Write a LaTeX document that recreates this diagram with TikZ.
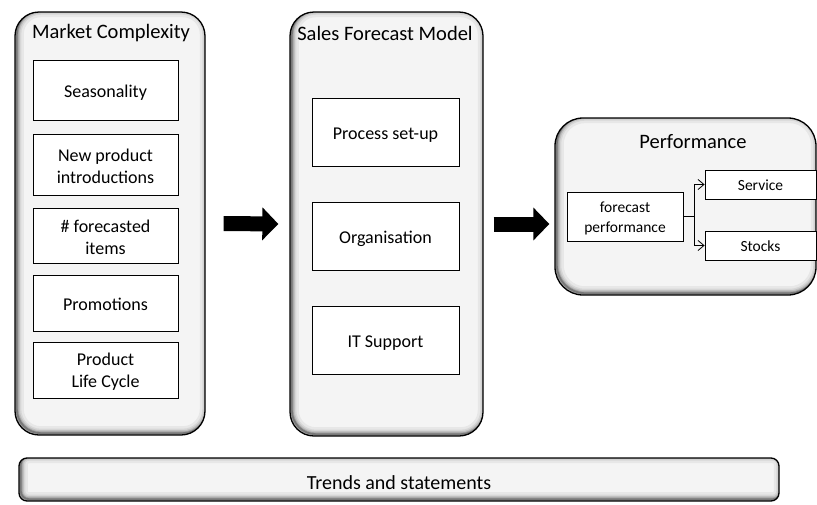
\documentclass[tikz,border=0pt]{standalone}
\usepackage{fontspec}
\setmainfont{Carlito}
\usetikzlibrary{arrows.meta}
\definecolor{panelgray}{HTML}{F4F4F4}
% taller first line, so that two-line labels sit a little lower
\newcommand\liftbig{\rule{0pt}{16.1pt}}
\newcommand\liftsmall{\rule{0pt}{14.9pt}}
\begin{document}
\begin{tikzpicture}[x=1pt,y=-1pt,
  % rounded panel with a soft inner shadow, heavier at the lower left
  panel/.style={draw=black, line width=1.3pt, fill=panelgray, rounded corners=#1,
    inner sep=0pt,
    path picture={
      \foreach \w/\o in {14/0.05,9/0.07,6/0.1,3.5/0.16,1.8/0.25}{
        \draw[line width=\w pt, draw=black, opacity=\o, rounded corners=#1]
          ([shift={(1.8pt,1.8pt)}]path picture bounding box.south west) rectangle
          ([shift={(1.8pt,1.8pt)}]path picture bounding box.north east);
      }
    }},
  itembox/.style={draw=black, line width=0.8pt, fill=white, align=center,
    font=\fontsize{18}{22.5}\selectfont, inner sep=0pt},
  oneline/.style={text height=17.6pt, text depth=3.4pt},
  smallbox/.style={draw=black, line width=0.8pt, fill=white, align=center,
    font=\fontsize{15.5}{20}\selectfont, inner sep=0pt},
  smalloneline/.style={text height=14.9pt, text depth=2.9pt},
  heading/.style={font=\fontsize{20.5}{24}\selectfont, inner sep=0pt},
  bigarrow/.style={line width=15pt, -{Triangle[length=16pt,width=32pt]}},
  thinarrow/.style={line width=0.8pt, -{Straight Barb[length=6pt,width=10pt]}}
]
\useasboundingbox (0,0) rectangle (817,504);

% panels
\node[panel=24pt, minimum width=190pt, minimum height=423pt] (mc) at (110,223.5) {};
\node[panel=24pt, minimum width=193pt, minimum height=424pt] (sfm) at (386.5,224) {};
\node[panel=28pt, minimum width=261pt, minimum height=177pt] (perf) at (685.5,206.5) {};
\node[panel=8pt, minimum width=760pt, minimum height=43pt] (bar) at (399,479.5) {};

% headings
\node[heading] (mctitle) at (111,33) {Market Complexity};
\node[heading] (sfmtitle) at (385,33) {Sales Forecast Model};
\node[heading] (perftitle) at (693,142) {Performance};
\node[heading, font=\fontsize{20}{24}\selectfont] (bartitle) at (399,482.5) {Trends and statements};

% market complexity items
\node[itembox, oneline, minimum width=145pt, minimum height=60pt] (seas) at (105.5,90) {Seasonality};
\node[itembox, minimum width=145pt, minimum height=61pt] (newp) at (105.5,164.5) {\liftbig New product\\introductions};
\node[itembox, minimum width=145pt, minimum height=55pt] (items) at (105.5,235.5) {\liftbig\# forecasted\\items};
\node[itembox, oneline, minimum width=145pt, minimum height=56pt] (promo) at (105.5,303) {Promotions};
\node[itembox, minimum width=145pt, minimum height=56pt] (plc) at (105.5,370) {\liftbig Product\\Life Cycle};

% sales forecast model items
\node[itembox, oneline, minimum width=147pt, minimum height=68pt] (proc) at (385.5,132) {Process set-up};
\node[itembox, oneline, minimum width=147pt, minimum height=68pt] (org) at (385.5,236) {Organisation};
\node[itembox, oneline, minimum width=147pt, minimum height=68pt] (its) at (385.5,340) {IT Support};

% performance items
\node[smallbox, minimum width=116pt, minimum height=49pt] (fp) at (625,216.5) {\liftsmall forecast\\performance};
\node[smallbox, smalloneline, minimum width=111pt, minimum height=29pt] (svc) at (760.5,184.5) {Service};
\node[smallbox, smalloneline, minimum width=111pt, minimum height=29pt] (stk) at (760.5,245.5) {Stocks};

% branch from forecast performance
\coordinate (jn) at ([xshift=11pt]fp.east);
\draw[line width=0.8pt] (fp.east) -- (jn);
\draw[thinarrow] (jn) |- (svc.west);
\draw[thinarrow] (jn) |- (stk.west);

% block arrows between panels
\draw[bigarrow] ([xshift=18pt]mc.east) -- ([xshift=-11pt]sfm.west);
\draw[bigarrow] ([xshift=10pt]sfm.east) -- ([xshift=-5pt]sfm.east -| perf.west);
\end{tikzpicture}
\end{document}
